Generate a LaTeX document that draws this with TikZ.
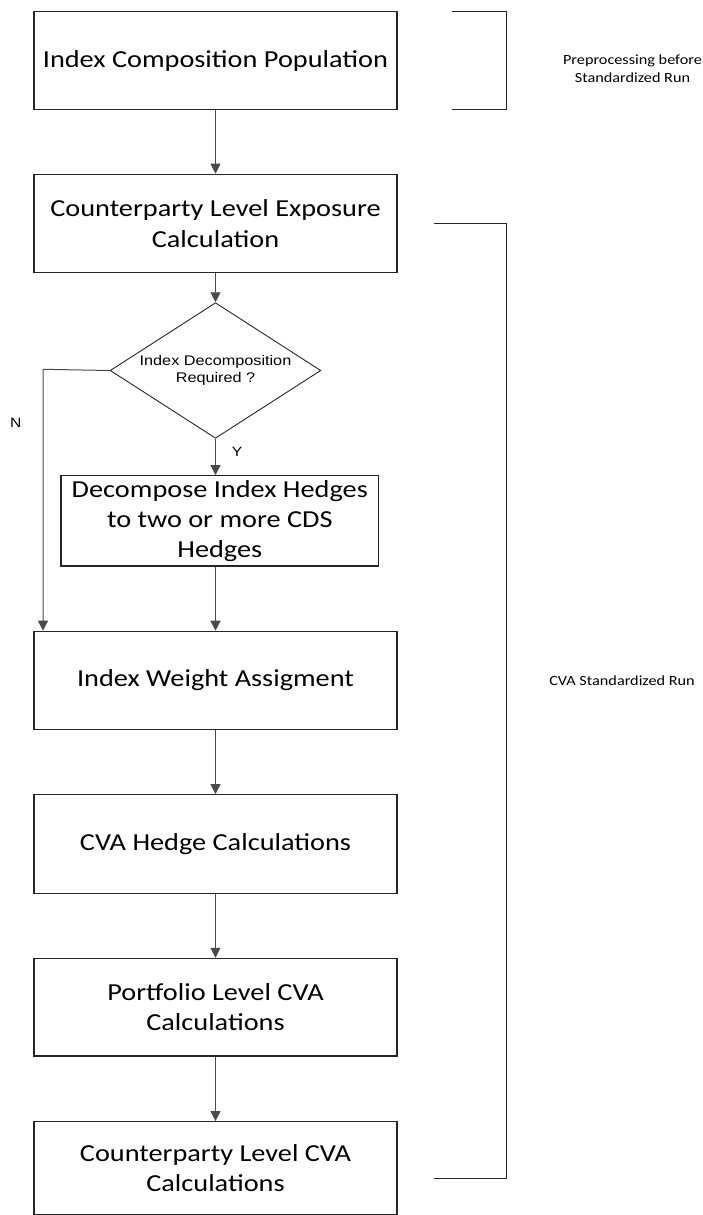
\documentclass[tikz,border=0pt]{standalone}
\usepackage{fontspec}
\setmainfont[FakeStretch=1.16]{Carlito}
\newfontfamily\arialf[FakeStretch=1.16]{Liberation Sans}
\usetikzlibrary{shapes.geometric,arrows.meta}
\definecolor{linegray}{HTML}{4A4A4A}
\begin{document}
\begin{tikzpicture}[x=1pt,y=-1pt,
  box/.style={draw=black!85,line width=1.2pt,minimum width=363pt,align=center,font=\fontsize{24.4}{30.5}\selectfont,inner sep=0pt},
  dec/.style={draw=black!85,line width=0.9pt,diamond,aspect=1.545,minimum width=210.7pt,minimum height=135.6pt,inner sep=0pt,align=center,font=\arialf\fontsize{14}{17}\selectfont},
  arr/.style={draw=linegray,line width=1pt,-{Triangle[length=10pt,width=10pt]}},
  brk/.style={draw=black!85,line width=1pt},
  side/.style={font=\fontsize{14}{18}\selectfont,align=center},
  yn/.style={font=\arialf\fontsize{13.5}{15}\selectfont}]
\useasboundingbox (0,0) rectangle (702,1215);
\node[box,minimum height=97.6pt] (b1) at (215.5,60.5) {Index Composition Population};
\node[box,minimum height=98.4pt] (b2) at (215.5,223.5) {Counterparty Level Exposure\\Calculation};
\node[dec] (d) at (215.5,370.5) {Index Decomposition\\Required ?};
\node[box,minimum width=317.7pt,minimum height=90.3pt,font=\fontsize{24.4}{30}\selectfont] (b3) at (219.8,520.8) {Decompose Index Hedges\\to two or more CDS\\Hedges};
\node[box,minimum height=98.4pt] (b4) at (215.5,680.5) {Index Weight Assigment};
\node[box,minimum height=98.6pt] (b5) at (215.5,844) {CVA Hedge Calculations};
\node[box,minimum height=97.7pt] (b6) at (215.5,1007.2) {Portfolio Level CVA\\Calculations};
\node[box,minimum height=92.5pt] (b7) at (215.5,1168) {Counterparty Level CVA\\Calculations};
\node[side] (t1) at (632.5,69) {Preprocessing before\\Standardized Run};
\node[side] (t2) at (622,680.7) {CVA Standardized Run};
\node[yn] (n) at (15.7,423) {N};
\node[yn] (y) at (237,451.7) {Y};
\coordinate (nc) at (43,369.3);
\draw[arr] (b1.south) -- (b2.north);
\draw[arr] (b2.south) -- (d.north);
\draw[arr] (d.south) -- (d.south |- b3.north);
\draw[arr] (d.south |- b3.south) -- (d.south |- b4.north);
\draw[arr] (d.west) -- (nc) -- (nc |- b4.north);
\draw[arr] (b4.south) -- (b5.north);
\draw[arr] (b5.south) -- (b6.north);
\draw[arr] (b6.south) -- (b7.north);
\coordinate (p1) at (451.7,11.7);
\coordinate (p2) at (506.5,11.7);
\coordinate (p3) at (506.5,109.3);
\coordinate (p4) at (451.7,109.3);
\draw[brk] (p1) -- (p2) -- (p3) -- (p4);
\coordinate (q1) at (433.8,223.7);
\coordinate (q2) at (506.5,223.7);
\coordinate (q3) at (506.5,1178.7);
\coordinate (q4) at (433.8,1178.7);
\draw[brk] (q1) -- (q2) -- (q3) -- (q4);
\end{tikzpicture}
\end{document}
